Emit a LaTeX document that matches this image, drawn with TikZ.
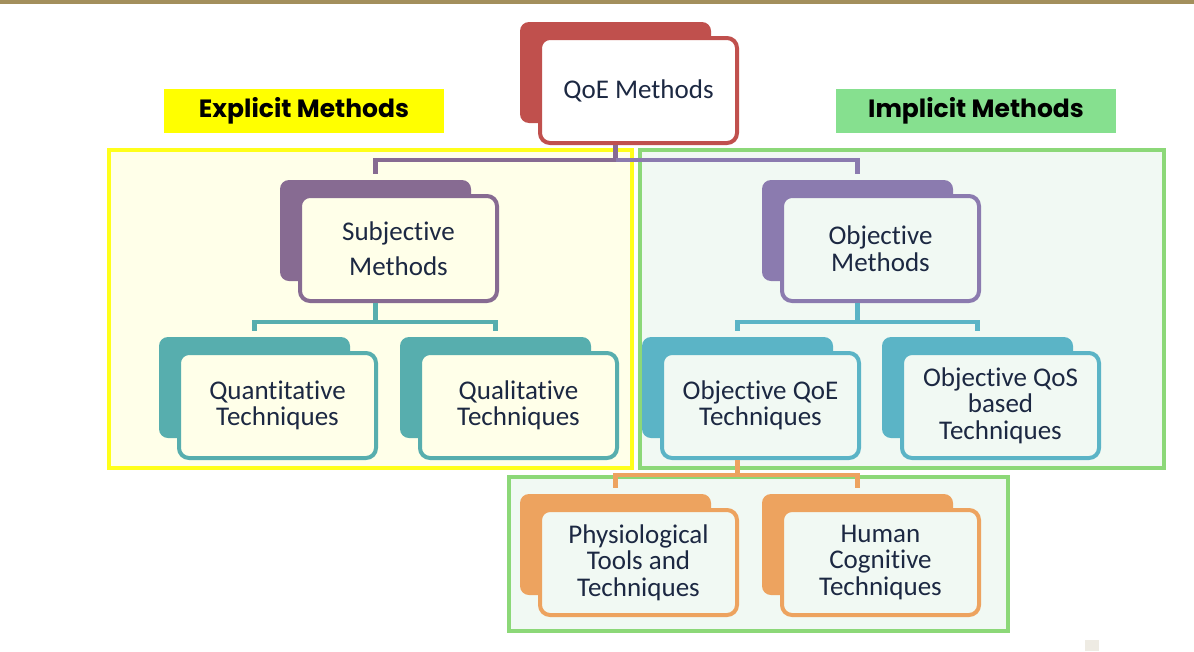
\documentclass[tikz,border=0pt]{standalone}
\usepackage{fontspec}
\newfontfamily\boxfont{Carlito}[Ligatures={NoCommon}]
\newfontfamily\labfont{Poppins}
\definecolor{gold}{HTML}{A38F5C}
\definecolor{qred}{HTML}{C0504D}
\definecolor{qpurA}{HTML}{876B92}
\definecolor{qpurB}{HTML}{8B7BAF}
\definecolor{qtealA}{HTML}{57AEAE}
\definecolor{qtealB}{HTML}{5BB4C6}
\definecolor{qorange}{HTML}{EDA35F}
\definecolor{txt}{HTML}{1C2842}
\definecolor{expfill}{HTML}{FFFFE9}
\definecolor{expline}{HTML}{FFFF1A}
\definecolor{impfill}{HTML}{F1F9F3}
\definecolor{impline}{HTML}{8CD878}
\definecolor{labyellow}{HTML}{FFFF00}
\definecolor{labgreen}{HTML}{86E08F}
\definecolor{sq}{HTML}{EEEBE3}
\tikzset{
  backbox/.style={rounded corners=9pt, minimum width=191pt, minimum height=101pt, inner sep=0pt},
  frontbox/.style={rounded corners=10pt, line width=4pt, minimum width=197pt, minimum height=105pt,
    inner sep=0pt, align=center, text=txt, font=\boxfont\fontsize{27}{26.5}\selectfont},
  region/.style={line width=3.5pt},
  labbox/.style={minimum width=280pt, minimum height=44pt, inner sep=0pt,
    font=\labfont\bfseries\fontsize{25}{28}\selectfont, text=black},
  conn/.style={line width=4.5pt}
}
\newcommand\twobox[6]{%
  \node[backbox, fill=#4] (#1B) at (#2+95.5,#3+50.5) {};
  \node[frontbox, draw=#4, fill=#5] (#1) at (#2+118.5,#3+68.5) {#6};
}
\begin{document}
\begin{tikzpicture}[x=1pt,y=-1pt]
\path[use as bounding box, fill=white] (0,0) rectangle (1194,651);
\fill[gold] (0,0) rectangle (1194,4);
\fill[sq] (1085,640) rectangle (1099,651);
% regions
\draw[region, draw=expline, fill=expfill] (109,150) rectangle (632,468);
\draw[region, draw=impline, fill=impfill] (640,150) rectangle (1164,468);
\draw[region, draw=impline, fill=impfill] (509,477) rectangle (1008,631);
% labels
\node[labbox, fill=labyellow] (explab) at (304,111) {Explicit Methods};
\node[labbox, fill=labgreen] (implab) at (976,111) {Implicit Methods};
% boxes
\twobox{qoe}{520}{22}{qred}{white}{QoE Methods}
\twobox{subj}{280}{180}{qpurA}{expfill}{Subjective\\[8pt]Methods}
\twobox{obj}{762}{180}{qpurB}{impfill}{Objective\\Methods}
\twobox{quant}{159}{337}{qtealA}{expfill}{Quantitative\\Techniques}
\twobox{qual}{400}{337}{qtealA}{expfill}{Qualitative\\Techniques}
\twobox{oqoe}{642}{337}{qtealB}{impfill}{Objective QoE\\Techniques}
\twobox{oqos}{882}{337}{qtealB}{impfill}{Objective QoS\\based\\Techniques}
\twobox{phys}{520}{494}{qorange}{impfill}{Physiological\\Tools and\\Techniques}
\twobox{hum}{762}{494}{qorange}{impfill}{Human\\Cognitive\\Techniques}
% hubs
\coordinate (h1) at (615.5,160);
\coordinate (h2) at (375.5,322);
\coordinate (h3) at (857.5,322);
\coordinate (h4) at (737.5,475);
% connectors
\draw[conn, qpurA] (qoeB |- qoe.south) -- (h1);
\draw[conn, qpurA] ([yshift=6pt]subjB.north) |- (h1);
\draw[conn, qpurB] (h1) -| ([yshift=6pt]objB.north);
\draw[conn, qtealA] (subjB |- subj.south) -- (h2);
\draw[conn, qtealA] ([yshift=6pt]quantB.north) |- (h2) -| ([yshift=6pt]qualB.north);
\draw[conn, qtealB] (objB |- obj.south) -- (h3);
\draw[conn, qtealB] ([yshift=6pt]oqoeB.north) |- (h3) -| ([yshift=6pt]oqosB.north);
\draw[conn, qorange] (oqoeB |- oqoe.south) -- (h4);
\draw[conn, qorange] ([yshift=6pt]physB.north) |- (h4) -| ([yshift=6pt]humB.north);
\end{tikzpicture}
\end{document}
